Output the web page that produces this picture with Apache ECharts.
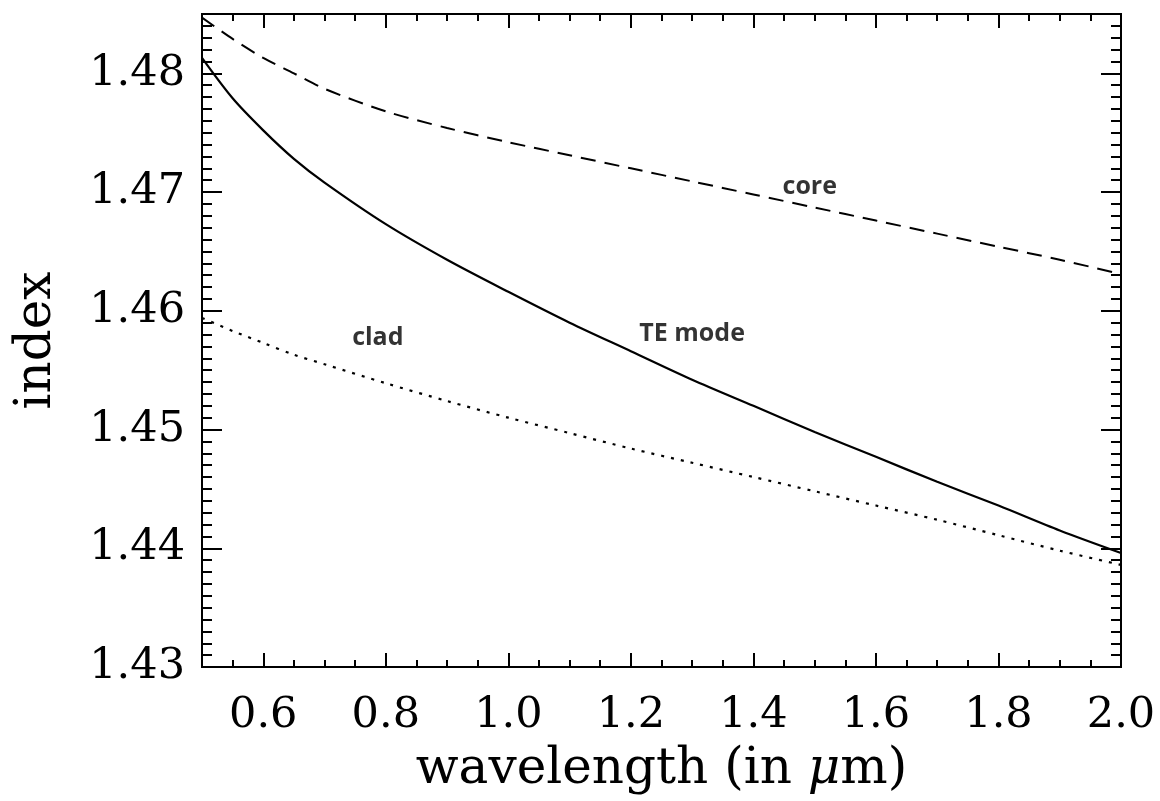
<!DOCTYPE html>
<html>
<head>
<meta charset="utf-8">
<script src="https://cdn.jsdelivr.net/npm/echarts@6/dist/echarts.min.js"></script>
<style>
  html, body { margin: 0; padding: 0; background: #fff; }
  #chart { width: 1160px; height: 801px; }
</style>
</head>
<body>
<div id="chart"></div>
<script>
// wavelength samples (um)
var wavelength = [0.5, 0.55, 0.6, 0.65, 0.7, 0.8, 0.9, 1.0, 1.1, 1.2, 1.3, 1.4, 1.5, 1.6, 1.7, 1.8, 1.9, 2.0];
var coreIndex = [1.4847, 1.4829, 1.4813, 1.4800, 1.4787, 1.4768, 1.4754, 1.4742, 1.4731, 1.4720, 1.4709, 1.4698, 1.4687, 1.4676, 1.4665, 1.4654, 1.4643, 1.4631];
var teModeIndex = [1.4813, 1.4779, 1.4752, 1.4728, 1.4708, 1.4673, 1.4643, 1.4616, 1.4590, 1.4566, 1.4542, 1.4520, 1.4498, 1.4477, 1.4456, 1.4436, 1.4415, 1.4396];
var cladIndex = [1.4594, 1.4583, 1.4573, 1.4563, 1.4555, 1.4539, 1.4524, 1.4510, 1.4497, 1.4484, 1.4472, 1.4460, 1.4448, 1.4436, 1.4424, 1.4411, 1.4398, 1.4386];

var xTicks = [0.6, 0.8, 1.0, 1.2, 1.4, 1.6, 1.8, 2.0];
var yTicks = [1.43, 1.44, 1.45, 1.46, 1.47, 1.48];

// curve labels, placed in data coordinates
var noteNames = ["core", "TE mode", "clad"];
var noteX = [1.492, 1.300, 0.787];
var noteY = [1.4704, 1.4581, 1.4577];

var serif = "DejaVu Serif";
var black = "#000";

function pairs(xs, ys) {
  var out = [];
  for (var i = 0; i < xs.length; i++) out.push([xs[i], ys[i]]);
  return out;
}

var notes = [];
for (var i = 0; i < noteNames.length; i++) {
  notes.push({ name: noteNames[i], value: [noteX[i], noteY[i]] });
}

var tickLabel = {
  fontFamily: serif,
  fontSize: 43,
  color: black
};

// x axes: 0 = bottom major (labels), 1 = bottom minor, 2 = top major, 3 = top minor
function xAxis(pos, major) {
  var ax = {
    type: "value",
    position: pos,
    min: 0.5,
    max: 2.0,
    splitLine: { show: false },
    axisLine: { show: true, onZero: false, lineStyle: { color: black, width: 2 } },
    axisTick: { show: true, inside: true, length: major ? 14 : 7, lineStyle: { color: black, width: 2 } },
    axisLabel: { show: false }
  };
  if (major) {
    ax.axisTick.customValues = xTicks;
  } else {
    ax.interval = 0.05;
  }
  return ax;
}

// y axes: 0 = left major (labels), 1 = left minor, 2 = right major, 3 = right minor
function yAxis(pos, major) {
  var ax = {
    type: "value",
    position: pos,
    min: 1.43,
    max: 1.485,
    splitLine: { show: false },
    axisLine: { show: true, onZero: false, lineStyle: { color: black, width: 2 } },
    axisTick: { show: true, inside: true, length: major ? 20 : 10, lineStyle: { color: black, width: 2 } },
    axisLabel: { show: false }
  };
  if (major) {
    ax.axisTick.customValues = yTicks;
  } else {
    ax.interval = 0.001;
  }
  return ax;
}

var xAxes = [xAxis("bottom", true), xAxis("bottom", false), xAxis("top", true), xAxis("top", false)];
xAxes[0].axisLabel = Object.assign({
  show: true,
  customValues: xTicks,
  margin: 27,
  formatter: function (v) { return v.toFixed(1); }
}, tickLabel);
xAxes[0].name = "wavelength (in {mu|μ}m)";
xAxes[0].nameLocation = "middle";
xAxes[0].nameGap = 78;
xAxes[0].nameTextStyle = {
  fontFamily: serif,
  fontSize: 50,
  color: black,
  rich: { mu: { fontFamily: serif, fontStyle: "italic", fontSize: 50, color: black } }
};

var yAxes = [yAxis("left", true), yAxis("left", false), yAxis("right", true), yAxis("right", false)];
yAxes[0].axisLabel = Object.assign({
  show: true,
  customValues: yTicks,
  margin: 17,
  formatter: function (v) { return v.toFixed(2); }
}, tickLabel);
yAxes[0].name = "index";
yAxes[0].nameLocation = "middle";
yAxes[0].nameGap = 140;
yAxes[0].nameTextStyle = { fontFamily: serif, fontSize: 50, color: black };

var chart = echarts.init(document.getElementById("chart"));

chart.setOption({
  animation: false,
  backgroundColor: "#fff",
  grid: { left: 202, right: 39, top: 14, bottom: 134 },
  xAxis: xAxes,
  yAxis: yAxes,
  series: [
    {
      name: "core",
      type: "line",
      data: pairs(wavelength, coreIndex),
      smooth: 0.3,
      showSymbol: false,
      lineStyle: { color: black, width: 2, type: [15, 9] }
    },
    {
      name: "TE mode",
      type: "line",
      data: pairs(wavelength, teModeIndex),
      smooth: 0.3,
      showSymbol: false,
      lineStyle: { color: black, width: 2.2 }
    },
    {
      name: "clad",
      type: "line",
      data: pairs(wavelength, cladIndex),
      smooth: 0.3,
      showSymbol: false,
      lineStyle: { color: black, width: 2.2, type: [3, 7] }
    },
    {
      name: "notes",
      type: "scatter",
      data: notes,
      symbolSize: 0,
      silent: true,
      label: {
        show: true,
        position: "inside",
        formatter: "{b}",
        fontFamily: "Open Sans",
        fontWeight: "bold",
        fontSize: 25,
        color: black,
        textBorderWidth: 0
      }
    }
  ]
});
</script>
</body>
</html>
